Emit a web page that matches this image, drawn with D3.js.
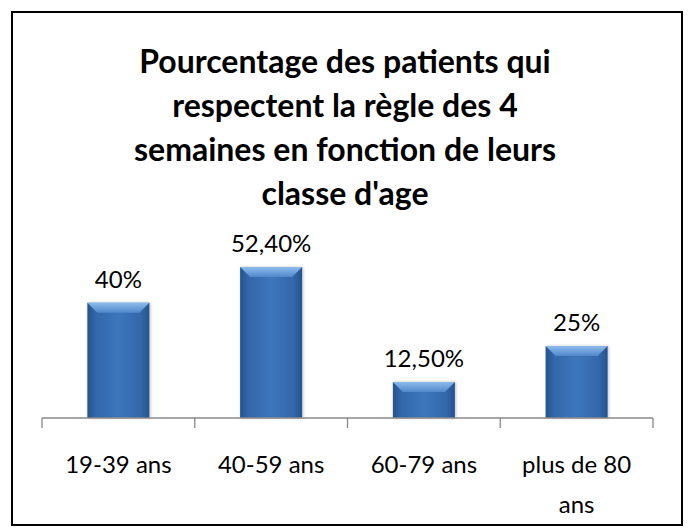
<!DOCTYPE html>
<html>
<head>
<meta charset="utf-8">
<script src="https://cdn.jsdelivr.net/npm/d3@7"></script>
<style>
  html, body { margin: 0; padding: 0; background: #fff; }
  svg { display: block; }
</style>
</head>
<body>
<svg id="chart" width="690" height="531"></svg>
<script>
const categories = ["19-39 ans", "40-59 ans", "60-79 ans", "plus de 80 ans"];
const values = [40, 52.4, 12.5, 25];
const valueLabels = ["40%", "52,40%", "12,50%", "25%"];
const titleLines = [
  "Pourcentage des patients qui",
  "respectent la règle des 4",
  "semaines en fonction de leurs",
  "classe d'age"
];
const categoryLines = [["19-39 ans"], ["40-59 ans"], ["60-79 ans"], ["plus de 80", "ans"]];

const svg = d3.select("#chart");
const font = "Lato, 'Open Sans', sans-serif";

// frame
svg.append("rect")
  .attr("x", 12).attr("y", 12).attr("width", 670).attr("height", 513)
  .attr("fill", "#fff").attr("stroke", "#000").attr("stroke-width", 2);

// title
const title = svg.append("text")
  .attr("text-anchor", "middle")
  .attr("font-family", font)
  .attr("font-weight", "bold")
  .attr("font-size", 32)
  .attr("fill", "#000");
titleLines.forEach((t, i) => {
  title.append("tspan").attr("x", 345).attr("y", 73 + i * 44).text(t);
});

// scales
const x = d3.scaleBand().domain(categories).range([42, 653]).paddingInner(0.594).paddingOuter(0.297);
const y = d3.scaleLinear().domain([0, 60]).range([418, 245.2]);

// bar fill: horizontal shading plus a lighter bevel at the top
const defs = svg.append("defs");
const hg = defs.append("linearGradient").attr("id", "barH").attr("x1", 0).attr("x2", 1).attr("y1", 0).attr("y2", 0);
hg.append("stop").attr("offset", "0").attr("stop-color", "#24538e");
hg.append("stop").attr("offset", "0.14").attr("stop-color", "#3467aa");
hg.append("stop").attr("offset", "0.5").attr("stop-color", "#3d76bd");
hg.append("stop").attr("offset", "0.86").attr("stop-color", "#3467aa");
hg.append("stop").attr("offset", "1").attr("stop-color", "#24538e");
const bev = defs.append("linearGradient").attr("id", "bev").attr("x1", 0).attr("x2", 0).attr("y1", 0).attr("y2", 1);
bev.append("stop").attr("offset", "0").attr("stop-color", "#8dbbec");
bev.append("stop").attr("offset", "1").attr("stop-color", "#4f88ca");
const sh = defs.append("filter").attr("id", "shadow").attr("x", "-20%").attr("y", "-20%").attr("width", "140%").attr("height", "140%");
sh.append("feDropShadow").attr("dx", 1).attr("dy", 0).attr("stdDeviation", 1.5).attr("flood-color", "#000").attr("flood-opacity", 0.25);

const bars = svg.append("g").selectAll("g").data(categories).join("g");
bars.append("rect")
  .attr("x", d => x(d))
  .attr("y", (d, i) => y(values[i]))
  .attr("width", x.bandwidth())
  .attr("height", (d, i) => y(0) - y(values[i]))
  .attr("fill", "url(#barH)")
  .attr("filter", "url(#shadow)");
// top bevel
bars.append("path")
  .attr("d", (d, i) => {
    const x0 = x(d), x1 = x(d) + x.bandwidth(), t = y(values[i]), b = 10;
    return `M${x0},${t}L${x1},${t}L${x1 - b},${t + b}L${x0 + b},${t + b}Z`;
  })
  .attr("fill", "url(#bev)");

// value labels
svg.append("g").selectAll("text").data(categories).join("text")
  .attr("x", d => x(d) + x.bandwidth() / 2)
  .attr("y", (d, i) => y(values[i]) - 15)
  .attr("text-anchor", "middle")
  .attr("font-family", font)
  .attr("font-size", 24)
  .attr("fill", "#000")
  .text((d, i) => valueLabels[i]);

// x axis with category separators
const step = x.step();
const axis = svg.append("g");
axis.append("line").attr("x1", 42).attr("x2", 653).attr("y1", 418).attr("y2", 418)
  .attr("stroke", "#888").attr("stroke-width", 1.3);
d3.range(categories.length + 1).forEach(i => {
  const px = 42 + i * step;
  axis.append("line").attr("x1", px).attr("x2", px).attr("y1", 418).attr("y2", 428)
    .attr("stroke", "#888").attr("stroke-width", 1.3);
});
const catText = axis.selectAll("text.cat").data(categories).join("text")
  .attr("class", "cat")
  .attr("text-anchor", "middle")
  .attr("font-family", font)
  .attr("font-size", 24)
  .attr("fill", "#000");
catText.each(function(d, i) {
  const cx = x(d) + x.bandwidth() / 2;
  categoryLines[i].forEach((ln, j) => {
    d3.select(this).append("tspan").attr("x", cx).attr("y", 473 + j * 40).text(ln);
  });
});
</script>
</body>
</html>
